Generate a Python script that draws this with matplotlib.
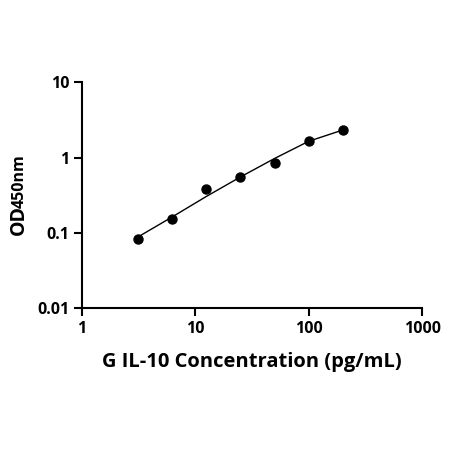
import numpy as np
import matplotlib
matplotlib.use("Agg")
import matplotlib.pyplot as plt

# --------------------------------------------------
# data
# --------------------------------------------------
conc = [3.125, 6.25, 12.5, 25, 50, 100, 200]          # pg/mL
od = [0.083, 0.153, 0.380, 0.560, 0.860, 1.68, 2.33]  # measured OD450

# fitted curve, sampled at the standard concentrations
fit_conc = [3.125, 6.25, 12.5, 25, 50, 100, 200]
fit_od = [0.0885, 0.163, 0.305, 0.554, 0.975, 1.65, 2.33]

x_ticks = [1, 10, 100, 1000]
x_labels = ["1", "10", "100", "1000"]
y_ticks = [0.01, 0.1, 1, 10]
y_labels = ["0.01", "0.1", "1", "10"]

plt.rcParams["font.family"] = ["Open Sans", "DejaVu Sans"]
plt.rcParams["font.weight"] = "bold"

fig = plt.figure(figsize=(4.5, 4.5), dpi=100)
ax = fig.add_axes([0.182, 0.315, 0.756, 0.502])

ax.plot(fit_conc, fit_od, color="black", linewidth=1.0, zorder=2)
ax.plot(conc, od, "o", color="black", markersize=6.5, zorder=3)

ax.set_xscale("log")
ax.set_yscale("log")
ax.set_xlim(1, 1000)
ax.set_ylim(0.01, 10)

ax.set_xticks(x_ticks)
ax.set_xticklabels(x_labels)
ax.set_yticks(y_ticks)
ax.set_yticklabels(y_labels)
ax.minorticks_off()

for s in ["top", "right"]:
    ax.spines[s].set_visible(False)
for s in ["left", "bottom"]:
    ax.spines[s].set_linewidth(1.5)

ax.tick_params(axis="both", which="major", direction="out", length=6,
               width=1.5, labelsize=11.5, pad=3)
for lab in ax.get_xticklabels() + ax.get_yticklabels():
    lab.set_fontweight("bold")

ax.set_xlabel("G IL-10 Concentration (pg/mL)", fontsize=14.5,
              fontweight="bold", labelpad=11)

# y label: "OD" with smaller "450nm" on the same baseline
fig.text(0.042, 1 - 235 / 450, "OD", rotation=90, ha="center", va="bottom",
         fontsize=14, fontweight="bold")
fig.text(0.043, 1 - 208 / 450, "450nm", rotation=90, ha="center", va="bottom",
         fontsize=11.5, fontweight="bold")

fig.savefig("out.png", dpi=100)
